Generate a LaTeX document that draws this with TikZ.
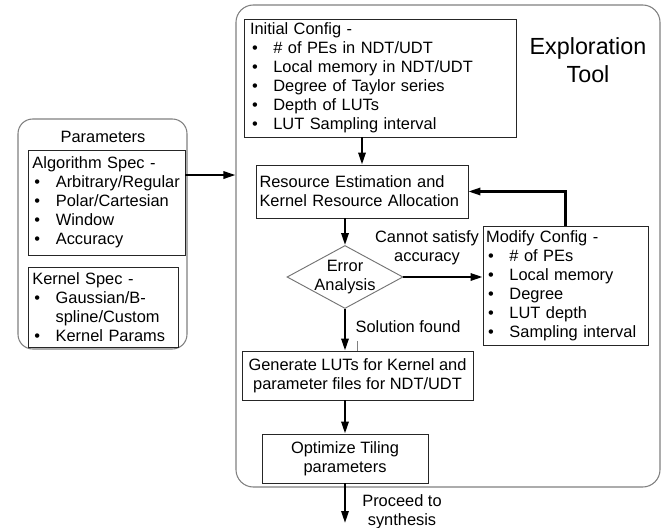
\documentclass[tikz,border=0pt]{standalone}
\usepackage{fontspec}
\setmainfont{Liberation Sans}
\usetikzlibrary{shapes.geometric,arrows.meta}
\newcommand{\bul}{\makebox[17.5pt][l]{\hspace{1.5pt}\textbullet}}
\begin{document}
\begin{tikzpicture}[x=0.75pt,y=-0.75pt,
  every node/.style={font=\fontsize{12.3}{14.25}\selectfont},
  outerbox/.style={draw=black!50, line width=0.8pt, rounded corners=13pt, inner sep=0},
  listbox/.style={draw=black!85, line width=0.7pt, align=left, inner ysep=0pt},
  centerbox/.style={draw=black!85, line width=0.7pt, align=center, inner sep=0pt},
  arr/.style={line width=1.6pt, -{Triangle[length=9pt,width=5.5pt]}},
  lbl/.style={align=center, inner sep=0pt}
]
\useasboundingbox (0,0) rectangle (672,528);

% Outer boxes
\node[outerbox, minimum width=318pt, minimum height=361.5pt] (explo) at (448,246) {};
\node[outerbox, rounded corners=11pt, minimum width=126.75pt, minimum height=172.5pt] (params) at (102.5,234) {};

\node[lbl, font=\fontsize{17.5}{21}\selectfont] (explot) at (588,60) {Exploration\\Tool};
\node[lbl] (paramt) at (103,137) {Parameters};

% Parameters inner boxes
\node[listbox, minimum width=117.75pt, minimum height=78.75pt, text width=111pt, inner xsep=3.375pt] (alg) at (106.5,202.5)
 {Algorithm Spec -\\\bul Arbitrary/Regular\\\bul Polar/Cartesian\\\bul Window\\\bul Accuracy};
\node[listbox, minimum width=112.5pt, minimum height=60pt, text width=106pt, inner xsep=3.25pt] (kern) at (103,307)
 {Kernel Spec -\\\bul Gaussian/B-\\\hspace*{17.5pt}spline/Custom\\\bul Kernel Params};

% Exploration tool contents
\node[listbox, minimum width=204pt, minimum height=88.5pt, text width=195pt, inner xsep=4.5pt] (init) at (380,78)
 {Initial Config -\\\bul \# of PEs in NDT/UDT\\\bul Local memory in NDT/UDT\\\bul Degree of Taylor series\\\bul Depth of LUTs\\\bul LUT Sampling interval};

\node[listbox, minimum width=159pt, minimum height=39.75pt, text width=153.75pt, inner xsep=2.625pt] (res) at (362,191.5)
 {Resource Estimation and\\Kernel Resource Allocation};

\node[diamond, draw=black!55, line width=0.7pt, minimum width=87pt, minimum height=47.25pt, inner sep=0pt] (err) at (345,277) {};
\node[lbl] (errt) at (err.center) {Error\\Analysis};

\node[listbox, minimum width=123.75pt, minimum height=89.25pt, text width=119pt, inner xsep=2.375pt] (mod) at (565.5,285.5)
 {Modify Config -\\\bul \# of PEs\\\bul Local memory\\\bul Degree\\\bul LUT depth\\\bul Sampling interval};

\node[centerbox, minimum width=173.25pt, minimum height=36.75pt] (gen) at (357.5,375.5)
 {Generate LUTs for Kernel and\\parameter files for NDT/UDT};

\node[centerbox, minimum width=124.5pt, minimum height=36.75pt] (opt) at (345,458.5)
 {Optimize Tiling\\parameters};

\coordinate (out) at (345,523);

% Labels
\node[lbl] (cannot) at (427,248) {Cannot satisfy\\accuracy};
\node[lbl] (sol) at (408,327) {Solution found};
\node[lbl] (proc) at (402,512) {Proceed to\\synthesis};

% Connectors
\coordinate (p1) at ([yshift=20.6pt]alg.east);
\draw[arr] (p1) -- (p1 -| explo.west);
\draw[arr] (res.north |- init.south) -- (res.north);
\draw[arr] (err.north |- res.south) -- (err.north);
\draw[arr] (err.east) -- (err.east -| mod.west);
\draw[arr] (mod.north) |- (res.east);
\draw[arr] (err.south) -- (err.south |- gen.north);
\draw[arr] (opt.north |- gen.south) -- (opt.north);
\draw[arr] (opt.south) -- (out);
\draw[black!50, line width=0.5pt] ([xshift=9pt]err.south |- gen.north) -- ++(0,-10);
\end{tikzpicture}
\end{document}
